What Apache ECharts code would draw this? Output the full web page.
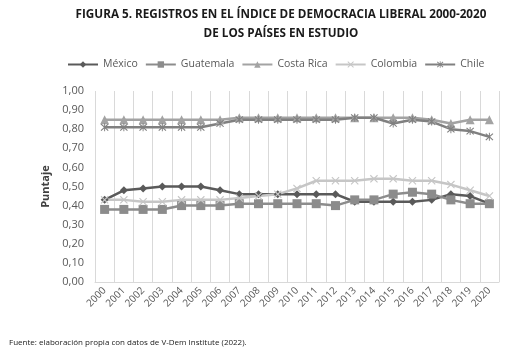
<!DOCTYPE html>
<html>
<head>
<meta charset="utf-8">
<script src="https://cdn.jsdelivr.net/npm/echarts@6/dist/echarts.min.js"></script>
<style>
  html, body { margin: 0; padding: 0; background: #fff; }
  #chart { width: 508px; height: 349px; }
</style>
</head>
<body>
<div id="chart"></div>
<script>
// Años del índice
const years = ['2000','2001','2002','2003','2004','2005','2006','2007','2008','2009','2010',
               '2011','2012','2013','2014','2015','2016','2017','2018','2019','2020'];

// Índice de democracia liberal por país
const mexico     = [0.43,0.48,0.49,0.50,0.50,0.50,0.48,0.46,0.46,0.46,0.46,0.46,0.46,0.42,0.42,0.42,0.42,0.43,0.46,0.45,0.41];
const guatemala  = [0.38,0.38,0.38,0.38,0.40,0.40,0.40,0.41,0.41,0.41,0.41,0.41,0.40,0.43,0.43,0.46,0.47,0.46,0.43,0.41,0.41];
const costaRica  = [0.85,0.85,0.85,0.85,0.85,0.85,0.85,0.86,0.86,0.86,0.86,0.86,0.86,0.86,0.86,0.86,0.86,0.85,0.83,0.85,0.85];
const colombia   = [0.43,0.43,0.42,0.42,0.43,0.43,0.43,0.44,0.45,0.46,0.49,0.53,0.53,0.53,0.54,0.54,0.53,0.53,0.51,0.48,0.45];
const chile      = [0.81,0.81,0.81,0.81,0.81,0.81,0.83,0.85,0.85,0.85,0.85,0.85,0.85,0.86,0.86,0.83,0.85,0.84,0.80,0.79,0.76];

const countryNames = ['México','Guatemala','Costa Rica','Colombia','Chile'];

const crossSymbol = 'path://M0,1L1,0L5,4L9,0L10,1L6,5L10,9L9,10L5,6L1,10L0,9L4,5Z';
const starSymbol  = 'path://M0,1L1,0L5,4L9,0L10,1L6,5L10,9L9,10L5,6L1,10L0,9L4,5Z M4.4,-0.5L5.6,-0.5L5.6,10.5L4.4,10.5Z';

function lineSeries(name, data, color, symbol, size) {
  return {
    name: name,
    type: 'line',
    data: data,
    symbol: symbol,
    symbolSize: size,
    showAllSymbol: true,
    itemStyle: { color: color },
    lineStyle: { color: color, width: 2.5 },
    emphasis: { disabled: true },
    animation: false
  };
}

const chart = echarts.init(document.getElementById('chart'));
chart.setOption({
  backgroundColor: '#ffffff',
  textStyle: { fontFamily: 'Open Sans' },
  title: [
    {
      text: 'FIGURA 5. REGISTROS EN EL ÍNDICE DE DEMOCRACIA LIBERAL 2000-2020\nDE LOS PAÍSES EN ESTUDIO',
      left: 276, top: 0, textAlign: 'center',
      textStyle: { fontFamily: 'Open Sans', fontWeight: 'bold', fontSize: 11.7, color: '#1a1a1a', lineHeight: 19 }
    },
    {
      text: 'Fuente: elaboración propia con datos de V-Dem Institute (2022).',
      left: 4, top: 334,
      textStyle: { fontFamily: 'Liberation Sans Narrow, Open Sans', fontWeight: 'normal', fontSize: 8, color: '#1a1a1a' }
    }
  ],
  legend: {
    data: countryNames,
    top: 54, left: 62,
    itemWidth: 30, itemHeight: 8, itemGap: 7,
    textStyle: { fontSize: 10.5, color: '#595959', fontFamily: 'Open Sans' }
  },
  grid: { left: 95, right: 9, top: 91, bottom: 67, containLabel: false },
  xAxis: {
    type: 'category',
    data: years,
    boundaryGap: true,
    axisLine: { lineStyle: { color: '#d9d9d9' } },
    axisTick: { show: false },
    splitLine: { show: true, lineStyle: { color: '#d9d9d9', width: 1 } },
    axisLabel: { rotate: 45, fontSize: 10, color: '#595959', margin: 7, interval: 0 }
  },
  yAxis: {
    type: 'value',
    min: 0, max: 1, interval: 0.1,
    name: 'Puntaje',
    nameLocation: 'middle',
    nameGap: 38,
    nameRotate: 90,
    nameTextStyle: { fontWeight: 'bold', fontSize: 11, color: '#404040' },
    axisLine: { show: false },
    axisTick: { show: false },
    splitLine: { show: false },
    axisLabel: {
      fontSize: 11, color: '#595959', margin: 11,
      formatter: v => v.toFixed(2).replace('.', ',')
    }
  },
  series: [
    lineSeries(countryNames[0], mexico,    '#5a5a5a', 'diamond',  8),
    lineSeries(countryNames[1], guatemala, '#8c8c8c', 'rect',     9),
    lineSeries(countryNames[2], costaRica, '#a3a3a3', 'triangle', 9),
    lineSeries(countryNames[3], colombia,  '#c6c6c6', crossSymbol, 8),
    lineSeries(countryNames[4], chile,     '#808080', starSymbol,  8)
  ]
});
</script>
</body>
</html>
